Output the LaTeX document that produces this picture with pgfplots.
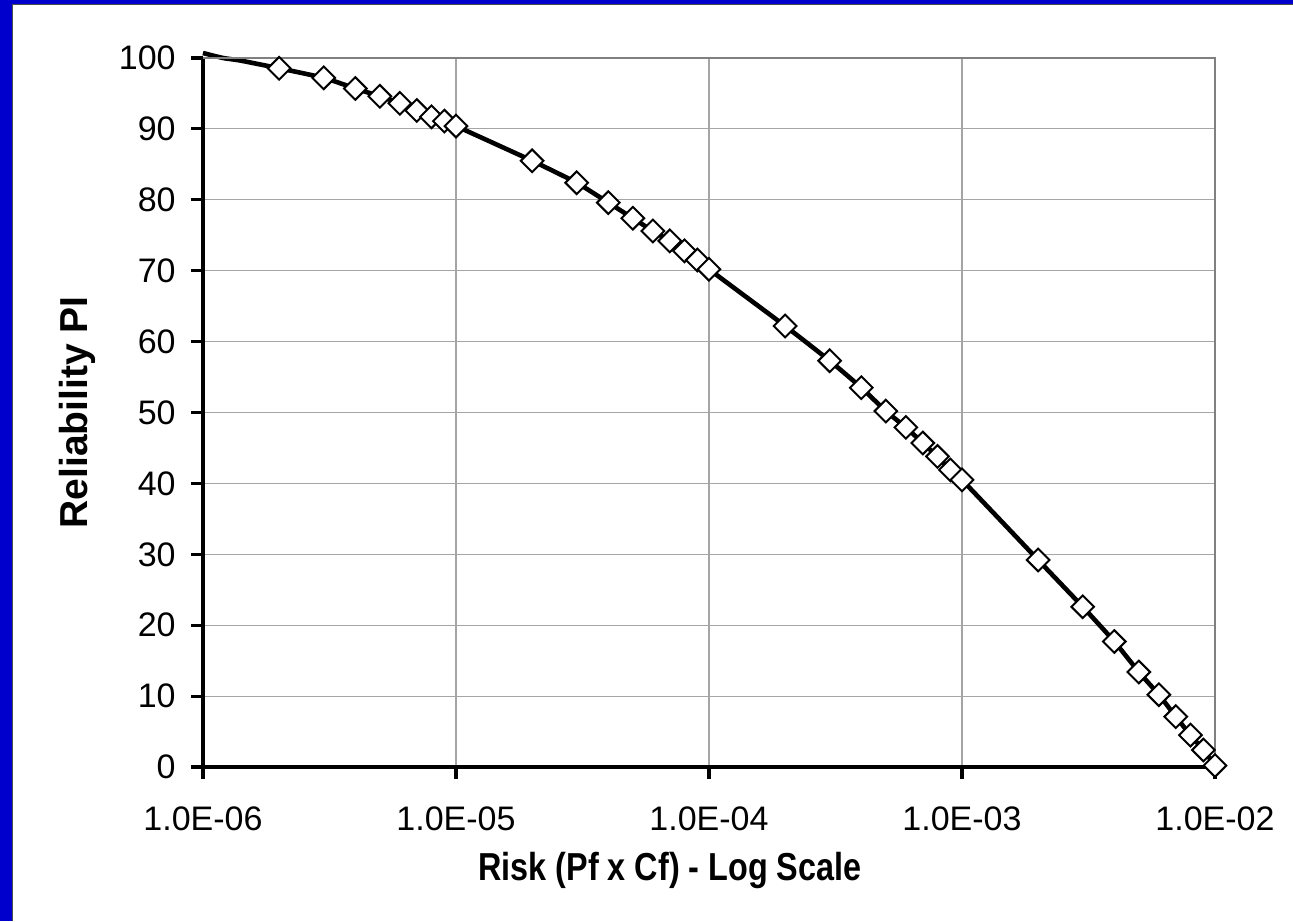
\documentclass[border=0pt]{standalone}
\usepackage{fontspec}
\setmainfont{Liberation Sans}
\usepackage{pgfplots}
\pgfplotsset{compat=1.18}
\definecolor{frameblue}{RGB}{0,0,204}
\definecolor{gridgray}{RGB}{165,165,165}
\definecolor{bordergray}{RGB}{128,128,128}
\begin{document}
\begin{tikzpicture}
\path[use as bounding box] (0,0) rectangle (646.5pt,460.5pt);
\fill[white] (0,0) rectangle (646.5pt,460.5pt);
\fill[frameblue] (0,0) rectangle (6pt,460.5pt);
\fill[frameblue] (0,458.7pt) rectangle (646.5pt,460.5pt);
\draw[black!70, line width=0.6pt] (6.3pt,0) -- (6.3pt,458.4pt) -- (646.5pt,458.4pt);
\begin{axis}[
  at={(101.5pt,77pt)}, anchor=south west,
  scale only axis, width=506pt, height=354.5pt,
  xmode=log, log basis x=10,
  xmin=1e-6, xmax=1e-2, ymin=0, ymax=100,
  xtick={1e-6,1e-5,1e-4,1e-3,1e-2},
  xticklabels={1.0E-06,1.0E-05,1.0E-04,1.0E-03,1.0E-02},
  ytick={0,10,...,100},
  minor xtick={},
  grid=major,
  major grid style={gridgray, line width=0.6pt},
  axis x line*=bottom, axis y line*=left,
  axis line style={-, black, line width=2pt},
  tick style={black, line width=1.6pt},
  major tick length=6pt,
  tick align=outside,
  clip=false,
  /pgf/number format/assume math mode=true,
  ticklabel style={font=\fontsize{17}{20}\selectfont, inner sep=0pt},
  yticklabel style={anchor=east, xshift=-7.5pt},
  xticklabel style={anchor=north, yshift=-13.5pt},
  label style={font=\bfseries\fontsize{19.5}{23}\selectfont},
  xlabel={\scalebox{0.83}[1]{Risk (Pf x Cf) - Log Scale}},
  ylabel={Reliability PI},
  xlabel style={at={(axis description cs:0.4615,-0.1594)}, anchor=base},
  ylabel style={at={(axis description cs:-0.1146,0.5)}, anchor=base, rotate=0},
]
\addplot[black, line width=2.3pt, smooth, tension=0.3, mark=none] coordinates {
(1e-6,100.7) (1.2e-6,100.0) (1.4e-6,99.65)
(2e-6,98.55) (3e-6,97.2) (4e-6,95.7) (5e-6,94.6) (6e-6,93.6) (7e-6,92.6) (8e-6,91.7) (9e-6,91.1)
(1e-5,90.4) (2e-5,85.5) (3e-5,82.4) (4e-5,79.6) (5e-5,77.4) (6e-5,75.6) (7e-5,74.2) (8e-5,72.8) (9e-5,71.5)
(1e-4,70.2) (2e-4,62.2) (3e-4,57.3) (4e-4,53.5) (5e-4,50.2) (6e-4,47.9) (7e-4,45.7) (8e-4,43.8) (9e-4,41.9)
(1e-3,40.5) (2e-3,29.2) (3e-3,22.6) (4e-3,17.7) (5e-3,13.4) (6e-3,10.2) (7e-3,7.1) (8e-3,4.5) (9e-3,2.4)
(1e-2,0.2)
};
\addplot[only marks, mark=square*, mark size=4pt, mark options={rotate=45, fill=white, draw=black, line width=1pt}] coordinates {
(2e-6,98.55) (3e-6,97.2) (4e-6,95.7) (5e-6,94.6) (6e-6,93.6) (7e-6,92.6) (8e-6,91.7) (9e-6,91.1)
(1e-5,90.4) (2e-5,85.5) (3e-5,82.4) (4e-5,79.6) (5e-5,77.4) (6e-5,75.6) (7e-5,74.2) (8e-5,72.8) (9e-5,71.5)
(1e-4,70.2) (2e-4,62.2) (3e-4,57.3) (4e-4,53.5) (5e-4,50.2) (6e-4,47.9) (7e-4,45.7) (8e-4,43.8) (9e-4,41.9)
(1e-3,40.5) (2e-3,29.2) (3e-3,22.6) (4e-3,17.7) (5e-3,13.4) (6e-3,10.2) (7e-3,7.1) (8e-3,4.5) (9e-3,2.4)
(1e-2,0.2)
};
\draw[bordergray, line width=1.2pt] (rel axis cs:0,1) -- (rel axis cs:1,1) -- (rel axis cs:1,0);
\end{axis}
\end{tikzpicture}
\end{document}
